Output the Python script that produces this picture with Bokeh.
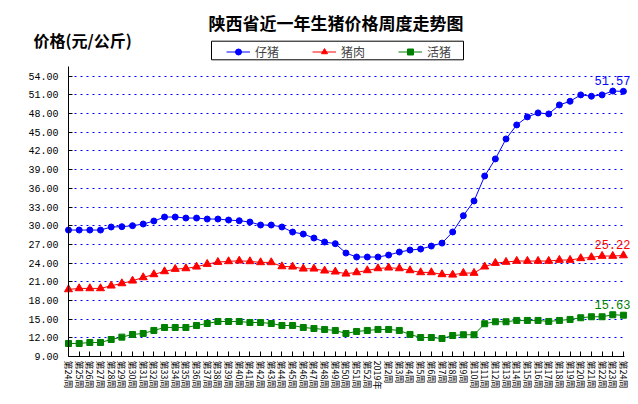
from bokeh.plotting import figure
from bokeh.models import (Range1d, FixedTicker, PrintfTickFormatter, Label,
                          Legend, LegendItem, ColumnDataSource, BoxAnnotation,
                          Grid)
from bokeh.embed import file_html
from bokeh.resources import INLINE

# ---- data ----
weeks = ["第%d周" % w for w in range(24, 53)] + ["2019年"] + \
        ["第%d周" % w for w in range(2, 25)]

piglet = [29.30, 29.30, 29.30, 29.30, 29.79, 29.84, 30.00, 30.27, 30.75, 31.39,
          31.39, 31.23, 31.23, 31.07, 31.07, 30.91, 30.80, 30.59, 30.11,
          30.11, 29.79, 28.98, 28.66, 28.02, 27.38, 27.11, 25.61, 24.97, 24.97,
          24.97, 25.29, 25.77, 26.09, 26.25, 26.73, 27.21,
          28.99, 31.61, 33.97, 37.98, 40.72, 43.93, 46.18, 47.47, 48.11, 47.95,
          49.39, 49.98, 51.00, 50.79, 51.00, 51.62, 51.57]

pork = [19.77, 19.93, 19.93, 19.93, 20.36, 20.73, 21.16, 21.70, 22.18, 22.66,
        23.04, 23.14, 23.41, 23.84, 24.16, 24.27, 24.37, 24.27, 24.11,
        24.11, 23.46, 23.41, 23.09, 23.09, 22.77, 22.61, 22.29, 22.50, 22.82,
        23.14, 23.25, 23.14, 22.82, 22.50, 22.50, 22.18, 22.12,
        22.40, 22.40, 23.42, 24.00, 24.17, 24.33, 24.33, 24.33, 24.33, 24.49,
        24.49, 24.76, 24.92, 25.13, 25.13, 25.22]

hog = [11.09, 11.09, 11.25, 11.25, 11.73, 12.11, 12.54, 12.70, 13.18, 13.66,
       13.66, 13.66, 13.98, 14.30, 14.62, 14.62, 14.62, 14.46, 14.46,
       14.30, 13.98, 13.98, 13.66, 13.50, 13.34, 13.18, 12.70, 13.02, 13.18,
       13.34, 13.34, 13.18, 12.54, 12.05, 12.05, 11.89, 12.37,
       12.49, 12.49, 14.26, 14.58, 14.58, 14.79, 14.79, 14.79, 14.63, 14.79,
       14.95, 15.22, 15.38, 15.38, 15.70, 15.63]

series_names = ["仔猪", "猪肉", "活猪"]
y_ticks = list(range(9, 55, 3))
title_text = "陕西省近一年生猪价格周度走势图"
ytitle_text = "价格(元/公斤)"

# ---- layout geometry (pixels inside the canvas) ----
FIG_W, FIG_H = 630, 396
AX_L, AX_R, AX_T, AX_B = 68, 624, 66, 356
X_LO, X_HI = 0, len(weeks) - 1 + 0.1
Y_LO, Y_HI = 9, 55.56
sx = (AX_R - AX_L) / (X_HI - X_LO)
sy = (AX_B - AX_T) / (Y_HI - Y_LO)


def px2x(px):
    return X_LO + (px - AX_L) / sx


def py2y(py):
    return Y_LO + (AX_B - py) / sy


idx = list(range(len(weeks)))
src = ColumnDataSource(dict(x=idx, piglet=piglet, pork=pork, hog=hog))

p = figure(width=FIG_W, height=FIG_H, output_backend="svg",
           toolbar_location=None,
           x_range=Range1d(X_LO - AX_L / sx, X_HI + (FIG_W - AX_R) / sx),
           y_range=Range1d(Y_LO - (FIG_H - AX_B) / sy, Y_HI + AX_T / sy),
           min_border=0, min_border_left=0, min_border_right=0,
           min_border_top=0, min_border_bottom=0)
p.outline_line_color = None
p.background_fill_color = "white"
p.border_fill_color = "white"

CJK = "Noto Sans CJK SC"
MONO = "Liberation Mono"

# axes (placed at fixed data locations)
p.yaxis.fixed_location = X_LO
p.yaxis.bounds = (Y_LO, Y_HI)
p.yaxis.ticker = FixedTicker(ticks=y_ticks)
p.yaxis.formatter = PrintfTickFormatter(format="%.2f")
p.yaxis.major_tick_in = 4
p.yaxis.major_tick_out = 0
p.yaxis.minor_tick_line_color = None
p.yaxis.major_label_text_font = MONO
p.yaxis.major_label_text_font_size = "10px"
p.yaxis.major_label_text_color = "black"
p.yaxis.major_label_standoff = 10
p.yaxis.axis_line_color = "black"

p.xaxis.fixed_location = Y_LO
p.xaxis.bounds = (X_LO, X_HI)
p.xaxis.ticker = FixedTicker(ticks=idx)
p.xaxis.major_label_overrides = {i: w for i, w in zip(idx, weeks)}
p.xaxis.major_label_orientation = "vertical"
p.xaxis.major_label_text_font = CJK
p.xaxis.major_label_text_font_size = "9px"
p.xaxis.major_label_text_color = "black"
p.xaxis.major_label_standoff = 4
p.xaxis.major_tick_in = 5
p.xaxis.major_tick_out = 0
p.xaxis.minor_tick_line_color = None
p.xaxis.axis_line_color = "black"

p.xgrid.visible = False
grid_ticks = y_ticks[1:]
if "cross_bounds" in Grid.properties():
    p.ygrid.ticker = FixedTicker(ticks=grid_ticks)
    p.ygrid.cross_bounds = (X_LO, X_HI - 0.2)
    p.ygrid.grid_line_color = "#0000FF"
    p.ygrid.grid_line_dash = "2 4"
    p.ygrid.grid_line_width = 1
else:
    p.ygrid.visible = False
    p.segment(x0=[X_LO] * len(grid_ticks), x1=[X_HI - 0.2] * len(grid_ticks),
              y0=grid_ticks, y1=grid_ticks, line_color="#0000FF",
              line_dash="2 4", line_width=1)

# series
colors = ["#0000FF", "#FF0000", "#008000"]
markers = ["circle", "triangle", "square"]
sizes = [6, 8, 6]
cols = ["piglet", "pork", "hog"]
items = []
for name, col, c, m, s in zip(series_names, cols, colors, markers, sizes):
    ln = p.line("x", col, source=src, line_color=c, line_width=1)
    sc = p.scatter("x", col, source=src, marker=m, size=s, fill_color=c,
                   line_color=c)
    items.append(LegendItem(label=name, renderers=[ln, sc]))

# end value labels
for vals, c in zip([piglet, pork, hog], colors):
    p.add_layout(Label(x=idx[-1], y=vals[-1], text="%.2f" % vals[-1],
                       x_offset=-11, y_offset=11, text_align="center",
                       text_baseline="middle", text_color=c,
                       text_font=MONO, text_font_size="12px"))

# title and axis title
p.add_layout(Label(x=px2x(335.5), y=py2y(21.7), text=title_text,
                   text_align="center", text_baseline="middle",
                   text_font=CJK, text_font_size="17px",
                   text_font_style="bold", text_color="black"))
p.add_layout(Label(x=px2x(33), y=py2y(39), text=ytitle_text,
                   text_align="left", text_baseline="middle",
                   text_font=CJK, text_font_size="16px",
                   text_font_style="bold", text_color="black"))

# legend frame + legend
p.add_layout(BoxAnnotation(left=px2x(211), right=px2x(463),
                           top=py2y(40.7), bottom=py2y(59.3),
                           fill_color="white", fill_alpha=1.0,
                           line_color="black", line_alpha=1.0, line_width=1))
legend = Legend(items=items, orientation="horizontal",
                location=(226, FIG_H - 59.5),
                margin=0, padding=2, spacing=33, label_standoff=5,
                glyph_width=24, glyph_height=15, label_height=15,
                label_width=22,
                label_text_font=CJK, label_text_font_size="12px",
                border_line_color=None, background_fill_alpha=0.0)
p.add_layout(legend)

open("out.html", "w").write(file_html(p, INLINE))
